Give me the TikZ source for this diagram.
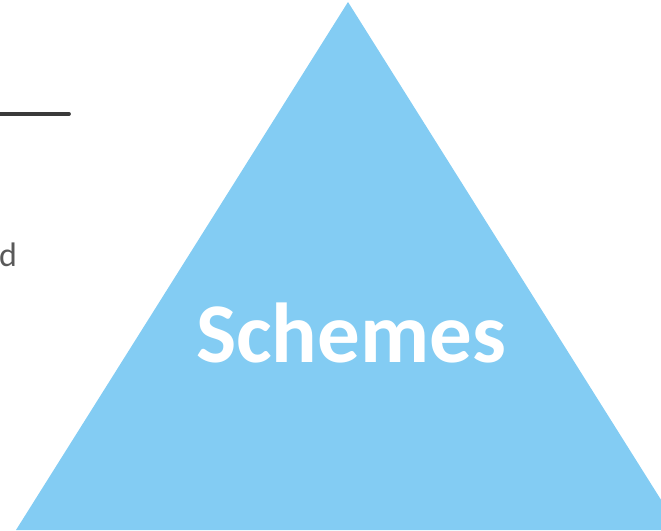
\documentclass[tikz,border=0pt]{standalone}
\usepackage{fontspec}
\setmainfont{Carlito}
\definecolor{skyfill}{RGB}{131,204,243}
\definecolor{rulegray}{RGB}{58,58,58}
\definecolor{textgray}{RGB}{89,89,89}
\tikzset{
  label/.style={inner sep=0pt, font=\fontsize{34}{34}\selectfont, text=textgray},
  title/.style={inner sep=0pt, font=\fontsize{85}{85}\selectfont\bfseries, text=white}
}
\begin{document}
\begin{tikzpicture}[x=1pt,y=-1pt]
    % Cadre de la figure
    \useasboundingbox (0,0) rectangle (661,530);
    \clip (0,0) rectangle (661,530);

    % Triangle
    \coordinate (apex) at (348,2);
    \coordinate (bl) at (16,530);
    \coordinate (br) at (680,530);
    \fill[skyfill] (apex) -- (bl) -- (br) -- cycle;

    % Trait et texte coupés à gauche
    \coordinate (r0) at (-5,114);
    \coordinate (r1) at (69,114);
    \draw[rulegray, line width=3.8pt, line cap=round] (r0) -- (r1);
    \node[label, anchor=base west] (dtxt) at (-1,266) {d};

    % Titre
    \node[title, anchor=base] (schemes) at (351,362) {Schemes};
\end{tikzpicture}
\end{document}
